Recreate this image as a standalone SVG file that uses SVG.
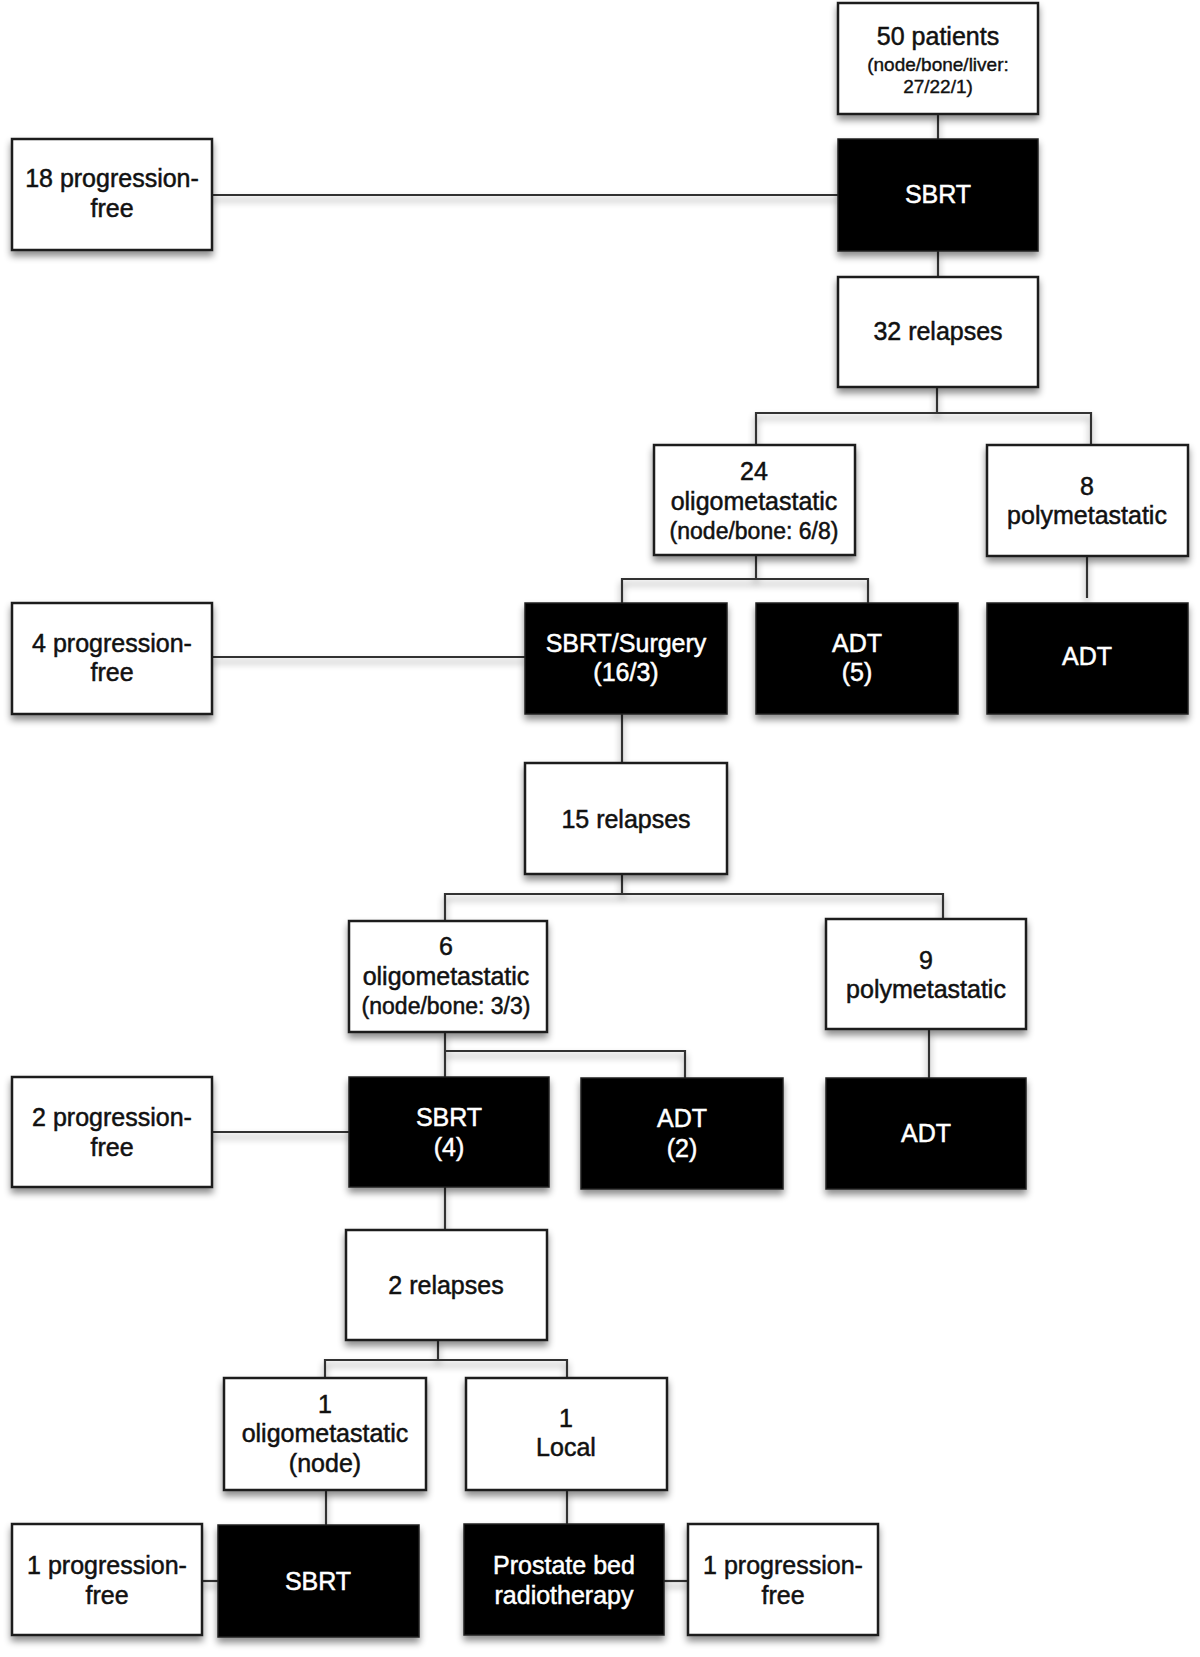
<svg xmlns="http://www.w3.org/2000/svg" width="1200" height="1657" viewBox="0 0 1200 1657">
<defs>
<filter id="sh" x="-10%" y="-10%" width="120%" height="130%">
<feDropShadow dx="0" dy="5" stdDeviation="3.5" flood-color="#000" flood-opacity="0.45"/>
</filter>
<style>
.w{fill:#fff;stroke:#1a1a1a;stroke-width:2.5}
.b{fill:#000;stroke:#222;stroke-width:1.5}
.t{font-family:"Liberation Sans",Arial,sans-serif;font-size:25px;text-anchor:middle;fill:#111;stroke:#111;stroke-width:0.5}
.tw{font-family:"Liberation Sans",Arial,sans-serif;font-size:25px;text-anchor:middle;fill:#fff;stroke:#fff;stroke-width:0.5}
.s{font-size:23px}
.xs{font-size:19px;stroke-width:0.4}
.c{fill:none;stroke:#333;stroke-width:2.2}
</style>
</defs>
<rect width="1200" height="1657" fill="#fff"/>
<g id="connectors" filter="url(#sh)">
<path class="c" d="M938 114V139"/>
<path class="c" d="M212 195H838"/>
<path class="c" d="M938 251V277"/>
<path class="c" d="M937 387V413M756 445V413H1091V445"/>
<path class="c" d="M756 555V579M622 603V579H868V603"/>
<path class="c" d="M1087 556V598"/>
<path class="c" d="M212 657H525"/>
<path class="c" d="M622 714V763"/>
<path class="c" d="M622 874V894M445 921V894H943V919"/>
<path class="c" d="M445 1032V1051M445 1077V1051H685V1078"/>
<path class="c" d="M929 1029V1078"/>
<path class="c" d="M212 1132H349"/>
<path class="c" d="M445 1187V1230"/>
<path class="c" d="M438 1340V1360M325 1378V1360H567V1378"/>
<path class="c" d="M326 1490V1525"/>
<path class="c" d="M567 1490V1524"/>
<path class="c" d="M202 1581H218"/>
<path class="c" d="M664 1581H688"/>
</g>
<g id="n50"><rect class="w" x="838" y="3" width="200" height="111" filter="url(#sh)"/><text class="t" x="938" y="45">50 patients</text><text class="t xs" x="938" y="71">(node/bone/liver:</text><text class="t xs" x="938" y="93">27/22/1)</text></g>
<g id="sbrt1"><rect class="b" x="838" y="139" width="200" height="112" filter="url(#sh)"/><text class="tw" x="938" y="203">SBRT</text></g>
<g id="pf18"><rect class="w" x="12" y="139" width="200" height="111" filter="url(#sh)"/><text class="t" x="112" y="187">18 progression-</text><text class="t" x="112" y="217">free</text></g>
<g id="rel32"><rect class="w" x="838" y="277" width="200" height="110" filter="url(#sh)"/><text class="t" x="938" y="340">32 relapses</text></g>
<g id="oligo24"><rect class="w" x="654" y="445" width="201" height="110" filter="url(#sh)"/><text class="t" x="754" y="480">24</text><text class="t" x="754" y="510">oligometastatic</text><text class="t s" x="754" y="539">(node/bone: 6/8)</text></g>
<g id="poly8"><rect class="w" x="987" y="445" width="201" height="111" filter="url(#sh)"/><text class="t" x="1087" y="495">8</text><text class="t" x="1087" y="524">polymetastatic</text></g>
<g id="pf4"><rect class="w" x="12" y="603" width="200" height="111" filter="url(#sh)"/><text class="t" x="112" y="652">4 progression-</text><text class="t" x="112" y="681">free</text></g>
<g id="sbrtsurg"><rect class="b" x="525" y="603" width="202" height="111" filter="url(#sh)"/><text class="tw" x="626" y="652">SBRT/Surgery</text><text class="tw" x="626" y="681">(16/3)</text></g>
<g id="adt5"><rect class="b" x="756" y="603" width="202" height="111" filter="url(#sh)"/><text class="tw" x="857" y="652">ADT</text><text class="tw" x="857" y="681">(5)</text></g>
<g id="adt1"><rect class="b" x="987" y="603" width="201" height="111" filter="url(#sh)"/><text class="tw" x="1087" y="665">ADT</text></g>
<g id="rel15"><rect class="w" x="525" y="763" width="202" height="111" filter="url(#sh)"/><text class="t" x="626" y="828">15 relapses</text></g>
<g id="oligo6"><rect class="w" x="349" y="921" width="198" height="111" filter="url(#sh)"/><text class="t" x="446" y="955">6</text><text class="t" x="446" y="985">oligometastatic</text><text class="t s" x="446" y="1014">(node/bone: 3/3)</text></g>
<g id="poly9"><rect class="w" x="826" y="919" width="200" height="110" filter="url(#sh)"/><text class="t" x="926" y="969">9</text><text class="t" x="926" y="998">polymetastatic</text></g>
<g id="pf2"><rect class="w" x="12" y="1077" width="200" height="110" filter="url(#sh)"/><text class="t" x="112" y="1126">2 progression-</text><text class="t" x="112" y="1156">free</text></g>
<g id="sbrt4"><rect class="b" x="349" y="1077" width="200" height="110" filter="url(#sh)"/><text class="tw" x="449" y="1126">SBRT</text><text class="tw" x="449" y="1156">(4)</text></g>
<g id="adt2"><rect class="b" x="581" y="1078" width="202" height="111" filter="url(#sh)"/><text class="tw" x="682" y="1127">ADT</text><text class="tw" x="682" y="1157">(2)</text></g>
<g id="adt3"><rect class="b" x="826" y="1078" width="200" height="111" filter="url(#sh)"/><text class="tw" x="926" y="1142">ADT</text></g>
<g id="rel2"><rect class="w" x="346" y="1230" width="201" height="110" filter="url(#sh)"/><text class="t" x="446" y="1294">2 relapses</text></g>
<g id="oligo1"><rect class="w" x="224" y="1378" width="202" height="112" filter="url(#sh)"/><text class="t" x="325" y="1413">1</text><text class="t" x="325" y="1442">oligometastatic</text><text class="t" x="325" y="1472">(node)</text></g>
<g id="local1"><rect class="w" x="466" y="1378" width="201" height="112" filter="url(#sh)"/><text class="t" x="566" y="1427">1</text><text class="t" x="566" y="1456">Local</text></g>
<g id="pf1a"><rect class="w" x="12" y="1524" width="190" height="111" filter="url(#sh)"/><text class="t" x="107" y="1574">1 progression-</text><text class="t" x="107" y="1604">free</text></g>
<g id="sbrt5"><rect class="b" x="218" y="1525" width="201" height="112" filter="url(#sh)"/><text class="tw" x="318" y="1590">SBRT</text></g>
<g id="prostate"><rect class="b" x="464" y="1524" width="200" height="111" filter="url(#sh)"/><text class="tw" x="564" y="1574">Prostate bed</text><text class="tw" x="564" y="1604">radiotherapy</text></g>
<g id="pf1b"><rect class="w" x="688" y="1524" width="190" height="111" filter="url(#sh)"/><text class="t" x="783" y="1574">1 progression-</text><text class="t" x="783" y="1604">free</text></g>
</svg>
